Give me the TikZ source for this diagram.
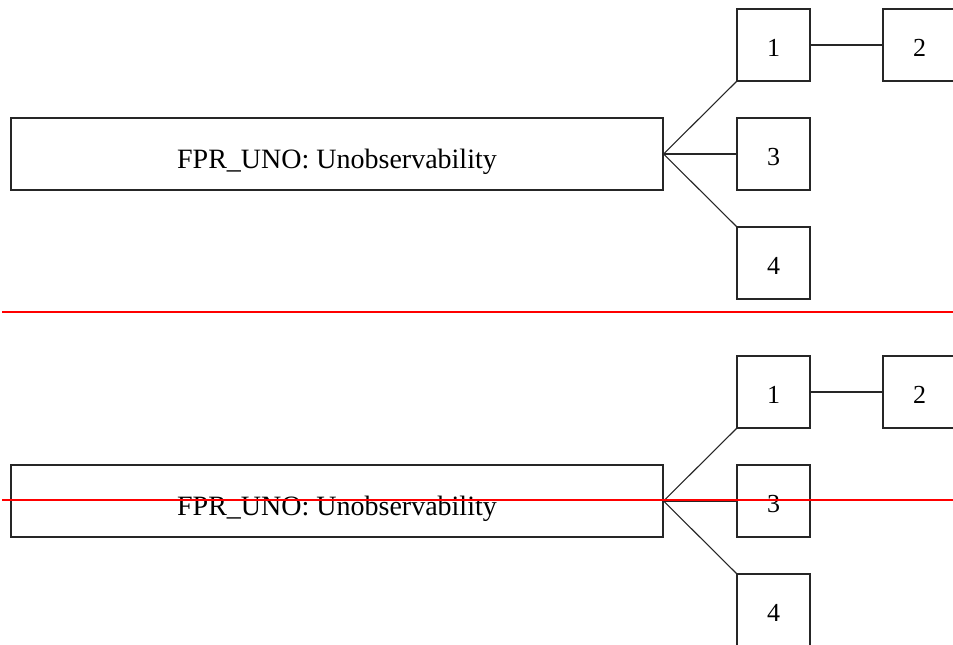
\documentclass[tikz,border=0pt]{standalone}
\usepackage{fontspec}
\setmainfont{Liberation Serif}
\newcommand{\mainlabel}{\raisebox{-4.5pt}{FPR\_UNO: Unobservability}}
\newcommand{\numlabel}[1]{\raisebox{-3pt}{#1}}
\begin{document}
\begin{tikzpicture}[x=1pt,y=-1pt,
  box/.style={draw=black!85,line width=1.1pt,rectangle,inner sep=0pt,text depth=0pt},
  mainbox/.style={box,minimum width=652pt,minimum height=72pt,text height=19pt,font=\fontsize{28}{28}\selectfont},
  numbox/.style={box,minimum width=73pt,minimum height=72pt,text height=17.6pt,font=\fontsize{26}{26}\selectfont},
  link/.style={draw=black!85,line width=1.1pt},
  redline/.style={draw=red,line width=2pt}]
\clip (0,0) rectangle (953,645);
\useasboundingbox (0,0) rectangle (953,645);
% top diagram
\node[mainbox] (m1) at (337,154) {\mainlabel};
\node[numbox] (a1) at (773.5,45) {\numlabel{1}};
\node[numbox] (a2) at (919.5,45) {\numlabel{2}};
\node[numbox] (a3) at (773.5,154) {\numlabel{3}};
\node[numbox] (a4) at (773.5,263) {\numlabel{4}};
\draw[link] (m1.east) -- (a1.south west);
\draw[link] (m1.east) -- (a3.west);
\draw[link] (m1.east) -- (a4.north west);
\draw[link] (a1.east) -- (a2.west);
% bottom diagram
\node[mainbox] (m2) at (337,501) {\mainlabel};
\node[numbox] (b1) at (773.5,392) {\numlabel{1}};
\node[numbox] (b2) at (919.5,392) {\numlabel{2}};
\node[numbox] (b3) at (773.5,501) {\numlabel{3}};
\node[numbox] (b4) at (773.5,610) {\numlabel{4}};
\draw[link] (m2.east) -- (b1.south west);
\draw[link] (m2.east) -- (b3.west);
\draw[link] (m2.east) -- (b4.north west);
\draw[link] (b1.east) -- (b2.west);
% red lines
\coordinate (r1a) at (2,312);
\coordinate (r1b) at (953,312);
\coordinate (r2a) at (2,500);
\coordinate (r2b) at (953,500);
\draw[redline] (r1a) -- (r1b);
\draw[redline] (r2a) -- (r2b);
\end{tikzpicture}
\end{document}
